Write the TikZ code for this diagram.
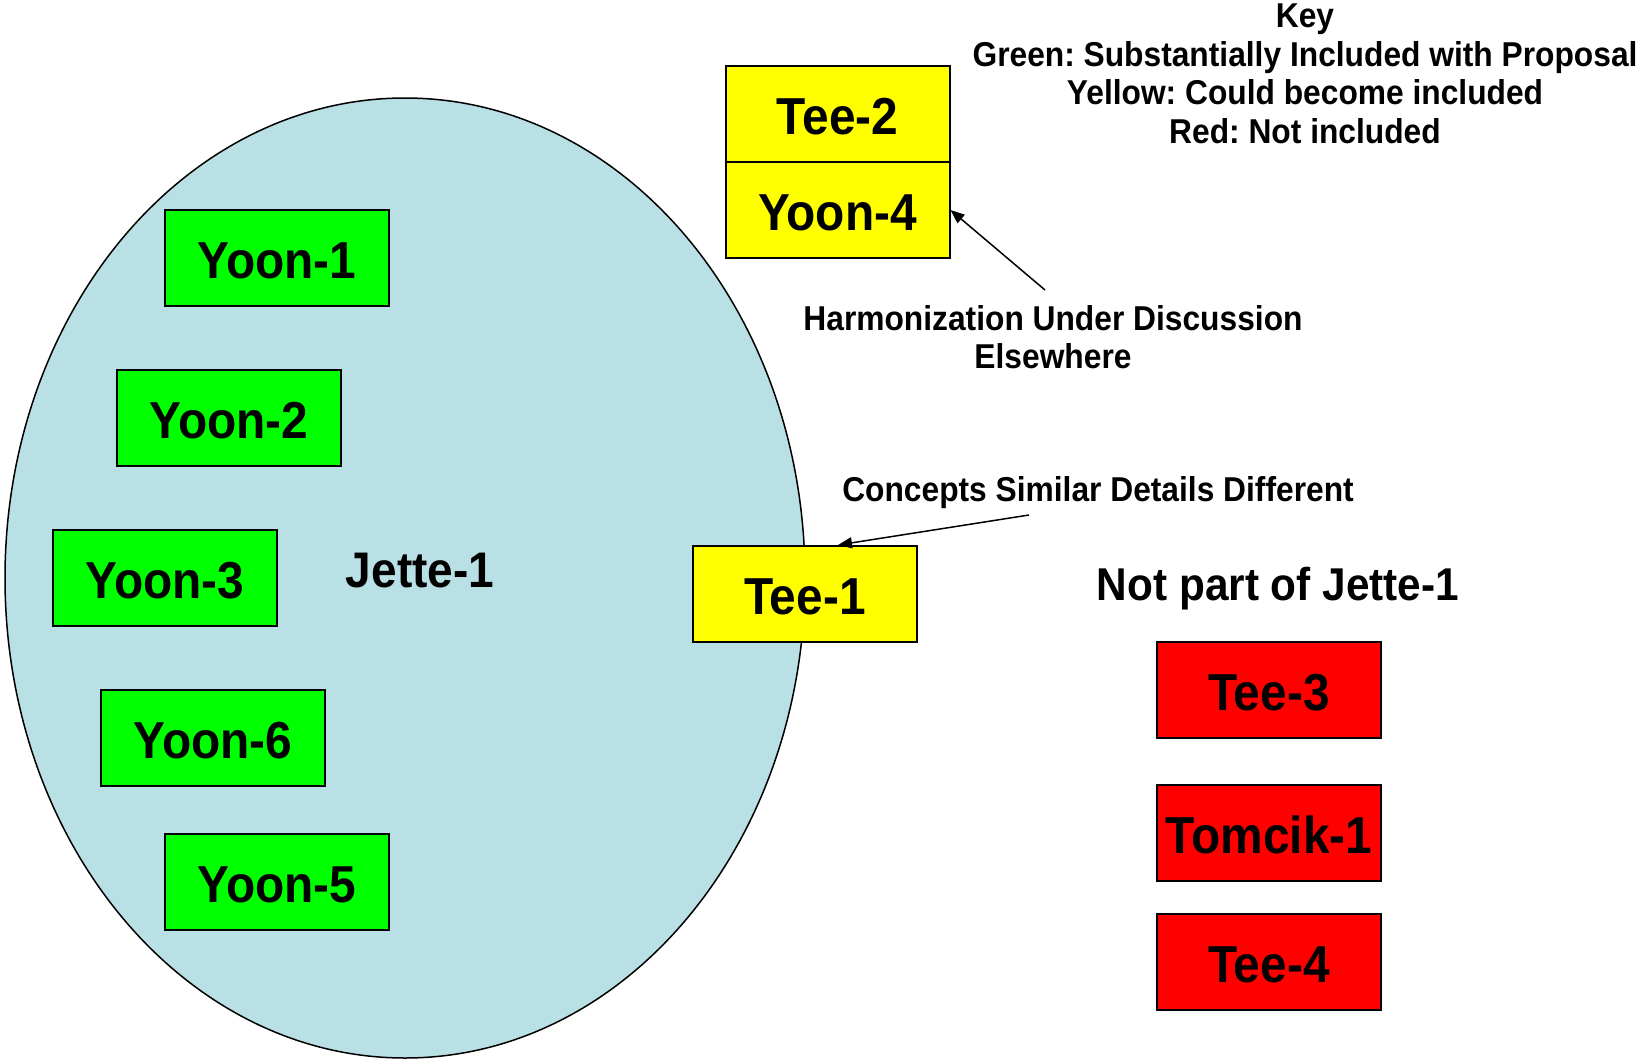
\documentclass[tikz,border=0pt]{standalone}
\usepackage{fontspec}
\setmainfont[FakeStretch=0.92]{Liberation Sans}
\usetikzlibrary{arrows.meta,calc}
\definecolor{ellblue}{RGB}{185,224,228}
\definecolor{boxgreen}{RGB}{0,255,0}
\definecolor{boxyellow}{RGB}{255,255,0}
\definecolor{boxred}{RGB}{255,0,0}
\tikzset{
  itembox/.style={draw=black, line width=2pt, minimum width=224pt, minimum height=96pt,
    inner sep=0pt, text height=41.5pt, text depth=0pt, font=\bfseries\fontsize{52}{56}\selectfont},
  greenbox/.style={itembox, fill=boxgreen},
  yellowbox/.style={itembox, fill=boxyellow},
  redbox/.style={itembox, fill=boxred},
  labeltext/.style={inner sep=0pt, align=center, font=\bfseries\fontsize{34.5}{38.5}\selectfont},
  bigtext/.style={inner sep=0pt, font=\bfseries\fontsize{46}{50}\selectfont},
  pointer/.style={line width=1.5pt, -{Triangle[length=14pt,width=11pt]}}
}
\frenchspacing
\begin{document}
\begin{tikzpicture}[x=1pt,y=-1pt]
\useasboundingbox (0,0) rectangle (1649,1063);
% ellipse
\draw[fill=ellblue, line width=1.5pt] (405,578) ellipse [x radius=400, y radius=480];
\node[bigtext, font=\bfseries\fontsize{50}{54}\selectfont] (jette) at (420,571) {Jette-1};
% green boxes
\node[greenbox] (yoon1) at (277,258) {Yoon-1};
\node[greenbox] (yoon2) at (229,418) {Yoon-2};
\node[greenbox] (yoon3) at (165,578) {Yoon-3};
\node[greenbox] (yoon6) at (213,738) {Yoon-6};
\node[greenbox] (yoon5) at (277,882) {Yoon-5};
% yellow boxes
\node[yellowbox] (tee2) at (837.5,114) {Tee-2};
\node[yellowbox] (yoon4) at (837.5,210) {Yoon-4};
\node[yellowbox] (tee1) at (805,594) {Tee-1};
% red boxes
\node[bigtext] (notpart) at (1278,589) {Not part of Jette-1};
\node[redbox] (tee3) at (1269,690) {Tee-3};
\node[redbox] (tomcik1) at (1269,833) {Tomcik-1};
\node[redbox] (tee4) at (1269,962) {Tee-4};
% key
\node[labeltext, anchor=north] (key) at (1305,4) {Key\\Green: Substantially Included with Proposal\\Yellow: Could become included\\Red: Not included};
% labels and arrows
\node[labeltext, anchor=north] (harm) at (1053,305) {Harmonization Under Discussion\\Elsewhere};
\node[labeltext] (concepts) at (1098,493) {Concepts Similar Details Different};
\coordinate (hstart) at (1045,290);
\coordinate (cstart) at (1029,515);
\draw[pointer] (hstart) -- (yoon4.east);
\draw[pointer] (cstart) -- ([xshift=33pt]tee1.north);
\end{tikzpicture}
\end{document}
